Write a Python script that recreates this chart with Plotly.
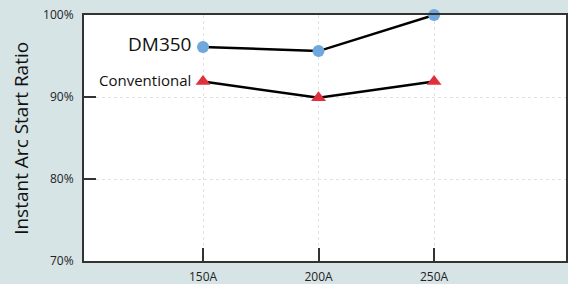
import plotly.graph_objects as go

currents = [150, 200, 250]
tick_labels = ["150A", "200A", "250A"]
dm350 = [96.1, 95.6, 100.0]
conventional = [91.9, 89.9, 91.9]
series_names = ["DM350", "Conventional"]

FONT = "Open Sans"

fig = go.Figure()
fig.add_trace(go.Scatter(
    x=currents, y=dm350, mode="lines+markers", name=series_names[0],
    line=dict(color="black", width=2.5),
    marker=dict(symbol="circle", size=12, color="#6fa8dc"),
    cliponaxis=False, showlegend=False))
fig.add_trace(go.Scatter(
    x=currents, y=conventional, mode="lines+markers", name=series_names[1],
    line=dict(color="black", width=2.5),
    marker=dict(symbol="triangle-up", size=13, color="#e0303c"),
    cliponaxis=False, showlegend=False))

fig.add_annotation(x=currents[0], y=dm350[0], text=series_names[0], showarrow=False,
                   xanchor="right", yanchor="middle", xshift=-10, yshift=3,
                   font=dict(size=19, color="#111", family=FONT))
fig.add_annotation(x=currents[0], y=conventional[0], text=series_names[1], showarrow=False,
                   xanchor="right", yanchor="middle", xshift=-10, yshift=1,
                   font=dict(size=15, color="#111", family=FONT))
fig.add_annotation(x=-0.131, y=0.5, xref="paper", yref="paper",
                   text="Instant Arc Start Ratio", textangle=-90, showarrow=False,
                   xanchor="center", yanchor="middle",
                   font=dict(size=19, color="#111", family=FONT))

fig.update_layout(
    width=568, height=284,
    margin=dict(l=84, r=2, t=15, b=23),
    paper_bgcolor="#d6e4e6", plot_bgcolor="white",
    font=dict(family=FONT, color="#222", size=12),
)
fig.update_xaxes(
    range=[98.5, 307.1], tickvals=currents, ticktext=tick_labels,
    showline=True, linecolor="#333", linewidth=2, mirror=True,
    ticks="inside", ticklen=13, tickcolor="#333", tickwidth=1.5,
    showgrid=True, gridcolor="#e2e2e2", griddash="dot", gridwidth=1,
    zeroline=False, tickfont=dict(size=12), automargin=False,
    ticklabelstandoff=4,
)
fig.update_yaxes(
    range=[70, 100], tickvals=[70, 80, 90, 100],
    ticktext=["70%", "80%", "90%", "100%"],
    showline=True, linecolor="#333", linewidth=2, mirror=True,
    ticks="inside", ticklen=12, tickcolor="#333", tickwidth=1.5,
    showgrid=True, gridcolor="#e2e2e2", griddash="dot", gridwidth=1,
    zeroline=False, tickfont=dict(size=12), automargin=False,
    ticklabelstandoff=6,
)

fig.write_html(
    "out.html",
    config={"displayModeBar": False},
    post_script="document.body.style.margin='0';document.body.style.overflow='hidden';",
)
